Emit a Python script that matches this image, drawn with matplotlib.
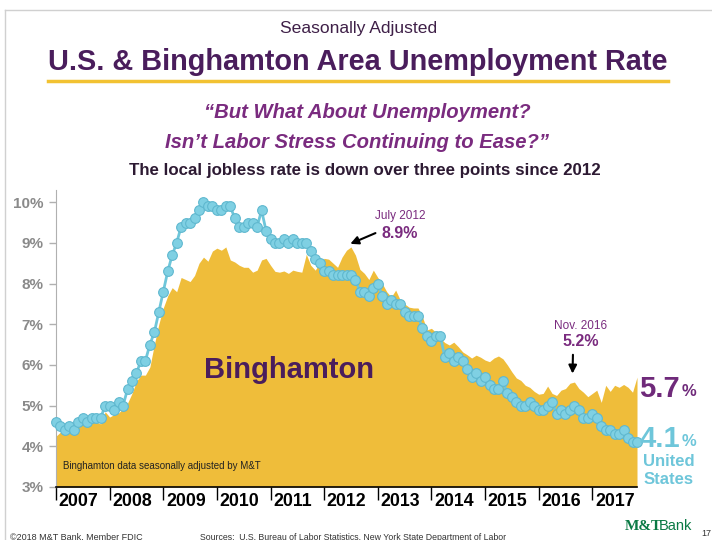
import numpy as np
import matplotlib
matplotlib.use('Agg')
import matplotlib.pyplot as plt
from matplotlib.lines import Line2D

# Monthly rates, Jan 2007 .. Nov 2017
us_rate = [4.6, 4.5, 4.4, 4.5, 4.4, 4.6, 4.7, 4.6, 4.7, 4.7, 4.7, 5.0,
           5.0, 4.9, 5.1, 5.0, 5.4, 5.6, 5.8, 6.1, 6.1, 6.5, 6.8, 7.3,
           7.8, 8.3, 8.7, 9.0, 9.4, 9.5, 9.5, 9.6, 9.8, 10.0, 9.9, 9.9,
           9.8, 9.8, 9.9, 9.9, 9.6, 9.4, 9.4, 9.5, 9.5, 9.4, 9.8, 9.3,
           9.1, 9.0, 9.0, 9.1, 9.0, 9.1, 9.0, 9.0, 9.0, 8.8, 8.6, 8.5,
           8.3, 8.3, 8.2, 8.2, 8.2, 8.2, 8.2, 8.1, 7.8, 7.8, 7.7, 7.9,
           8.0, 7.7, 7.5, 7.6, 7.5, 7.5, 7.3, 7.2, 7.2, 7.2, 6.9, 6.7,
           6.6, 6.7, 6.7, 6.2, 6.3, 6.1, 6.2, 6.1, 5.9, 5.7, 5.8, 5.6,
           5.7, 5.5, 5.4, 5.4, 5.6, 5.3, 5.2, 5.1, 5.0, 5.0, 5.1, 5.0,
           4.9, 4.9, 5.0, 5.1, 4.8, 4.9, 4.8, 4.9, 5.0, 4.9, 4.7, 4.7,
           4.8, 4.7, 4.5, 4.4, 4.4, 4.3, 4.3, 4.4, 4.2, 4.1, 4.1]

bing_rate = [4.25, 4.35, 4.4, 4.45, 4.5, 4.5, 4.55, 4.55, 4.6, 4.6, 4.55, 4.85,
             4.72, 4.78, 4.82, 4.93, 5.06, 5.3, 5.6, 5.75, 5.75, 5.95, 6.5, 7.0,
             7.4, 7.7, 7.9, 7.8, 8.15, 8.1, 8.05, 8.2, 8.5, 8.65, 8.55, 8.8,
             8.87, 8.82, 8.9, 8.58, 8.53, 8.45, 8.4, 8.4, 8.28, 8.33, 8.58, 8.62,
             8.45, 8.3, 8.28, 8.31, 8.25, 8.33, 8.3, 8.28, 8.72, 8.45, 8.33, 8.5,
             8.62, 8.6, 8.5, 8.4, 8.65, 8.82, 8.9, 8.7, 8.35, 8.25, 8.1, 8.33,
             8.15, 8.0, 7.8, 7.67, 7.84, 7.6, 7.5, 7.42, 7.4, 7.4, 7.18, 6.86,
             6.9, 6.8, 6.65, 6.55, 6.49, 6.56, 6.45, 6.32, 6.25, 6.17, 6.24, 6.19,
             6.12, 6.08, 6.17, 6.22, 6.15, 6.0, 5.83, 5.68, 5.62, 5.5, 5.45, 5.35,
             5.28, 5.3, 5.48, 5.3, 5.25, 5.38, 5.42, 5.55, 5.58, 5.42, 5.33, 5.22,
             5.3, 5.38, 5.08, 5.5, 5.35, 5.5, 5.45, 5.52, 5.45, 5.33, 5.7]

years = list(range(2007, 2018))
y_ticks = [3, 4, 5, 6, 7, 8, 9, 10]
y_labels = ['3%', '4%', '5%', '6%', '7%', '8%', '9%', '10%']

SANS = 'Liberation Sans'

YELLOW = '#efbd3a'
BLUE = '#6ec6da'
DARK_PURPLE = '#4a1d5c'
PURPLE = '#7a2b7f'

W, H = 712, 540
fig = plt.figure(figsize=(W / 100, H / 100), dpi=100)


def px(x, y):
    # pixel position (top-left origin) -> figure fraction
    return x / W, 1 - y / H


# slide frame
fig.add_artist(Line2D([5 / W, 1], [1 - 10 / H] * 2, color='#d0d0d0', lw=1))
fig.add_artist(Line2D([5 / W] * 2, [0, 1 - 10 / H], color='#d0d0d0', lw=1))

# headings
fig.text(*px(359, 28), 'Seasonally Adjusted', ha='center', va='center',
         family=SANS, fontsize=12.6, color='#3f2048')
fig.text(*px(358, 62), 'U.S. & Binghamton Area Unemployment Rate', ha='center', va='center',
         family=SANS, fontsize=20.8, fontweight='bold', color=DARK_PURPLE)
fig.add_artist(Line2D([48 / W, 668 / W], [1 - 81 / H] * 2, color='#f2c232', lw=2.5))
fig.text(*px(367, 112), '\u201cBut What About Unemployment?', ha='center', va='center',
         family=SANS, fontsize=14.6, fontweight='bold', style='italic', color=PURPLE)
fig.text(*px(357, 143), 'Isn\u2019t Labor Stress Continuing to Ease?\u201d', ha='center', va='center',
         family=SANS, fontsize=14.6, fontweight='bold', style='italic', color=PURPLE)
fig.text(*px(365, 170), 'The local jobless rate is down over three points since 2012', ha='center',
         va='center', family=SANS, fontsize=12.2, fontweight='bold', color='#2d1a33')

ax = fig.add_axes([56 / W, 53 / H, (637 - 56) / W, (487 - 190) / H])
x = 2007 + np.arange(len(us_rate)) / 12

ax.fill_between(x, 3, bing_rate, color=YELLOW, lw=0, zorder=1)
ax.plot(x, us_rate, color=BLUE, lw=2, marker='o', ms=7, mfc='#7fd0e3', mec='#5fb8cf',
        mew=0.8, zorder=3, clip_on=False)

ax.set_xlim(2007, x[-1])
ax.set_ylim(3, 10.3)
ax.set_yticks(y_ticks)
ax.set_yticklabels(y_labels)
ax.set_xticks(years)
ax.set_xticklabels([])
ax.set_xticks([yr + 0.42 for yr in years], minor=True)
ax.set_xticklabels([str(yr) for yr in years], minor=True)
ax.tick_params(axis='x', which='major', direction='out', length=9, width=1, color='black')
ax.tick_params(axis='x', which='minor', length=0, pad=4)
ax.tick_params(axis='y', direction='out', length=5, width=1, color='#b0b0b0', pad=4)
for lab in ax.get_xticklabels(minor=True):
    lab.set_family(SANS)
    lab.set_fontsize(12.8)
    lab.set_fontweight('bold')
for lab in ax.get_yticklabels():
    lab.set_family(SANS)
    lab.set_fontsize(11)
    lab.set_fontweight('bold')
    lab.set_color('#8a8a8a')
for s in ['top', 'right']:
    ax.spines[s].set_visible(False)
ax.spines['left'].set_color('#b0b0b0')
ax.spines['bottom'].set_color('black')
ax.spines['bottom'].set_linewidth(1.2)
ax.patch.set_alpha(0)

ax.text(2011.34, 5.87, 'Binghamton', ha='center', va='center', family=SANS,
        fontsize=21, fontweight='bold', color=DARK_PURPLE, zorder=4)
ax.text(2007.13, 3.52, 'Binghamton data seasonally adjusted by M&T', ha='left', va='center',
        family=SANS, fontsize=7, color='#222222', zorder=4)

# callouts
ax.annotate('', xy=(2012.44, 8.95), xycoords='data', xytext=(378, H - 232),
            textcoords='figure pixels',
            arrowprops=dict(arrowstyle='-|>', color='black', lw=1.5, mutation_scale=12))
fig.text(*px(400, 216), 'July 2012', ha='center', va='center', family=SANS, fontsize=8.5,
         color=PURPLE)
fig.text(*px(400, 233), '8.9%', ha='center', va='center', family=SANS, fontsize=11.5,
         fontweight='bold', color=PURPLE)
ax.annotate('', xy=(2016.63, 5.72), xycoords='data', xytext=(573, H - 352),
            textcoords='figure pixels',
            arrowprops=dict(arrowstyle='-|>', color='black', lw=1.5, mutation_scale=12))
fig.text(*px(581, 326), 'Nov. 2016', ha='center', va='center', family=SANS, fontsize=8.5,
         color=PURPLE)
fig.text(*px(581, 342), '5.2%', ha='center', va='center', family=SANS, fontsize=11.5,
         fontweight='bold', color=PURPLE)

# end labels
fig.text(*px(639, 389), '5.7', ha='left', va='center', family=SANS, fontsize=21,
         fontweight='bold', color='#6f2a7a')
fig.text(*px(682, 392), '%', ha='left', va='center', family=SANS, fontsize=12,
         fontweight='bold', color='#6f2a7a')
fig.text(*px(639, 439), '4.1', ha='left', va='center', family=SANS, fontsize=21,
         fontweight='bold', color=BLUE)
fig.text(*px(682, 442), '%', ha='left', va='center', family=SANS, fontsize=12,
         fontweight='bold', color=BLUE)
fig.text(*px(669, 462), 'United', ha='center', va='center', family=SANS, fontsize=12,
         fontweight='bold', color=BLUE)
fig.text(*px(669, 479), 'States', ha='center', va='center', family=SANS, fontsize=12,
         fontweight='bold', color=BLUE)

# footer
fig.text(*px(10, 537), '\u00a92018 M&T Bank, Member FDIC', ha='left', va='center',
         family=SANS, fontsize=6.5, color='#333333')
fig.text(*px(200, 537), 'Sources:  U.S. Bureau of Labor Statistics, New York State Department of Labor',
         ha='left', va='center', family=SANS, fontsize=6.3, color='#333333')
fig.text(*px(625, 526), 'M&T', ha='left', va='center', family='Liberation Serif', fontsize=11,
         fontweight='bold', color='#0b7a45')
fig.text(*px(659, 526), 'Bank', ha='left', va='center', family=SANS, fontsize=10.5,
         color='#0b7a45')
fig.text(*px(701, 533), '17', ha='left', va='center', family=SANS, fontsize=6.5, color='#333333')

fig.savefig('out.png', dpi=100)
